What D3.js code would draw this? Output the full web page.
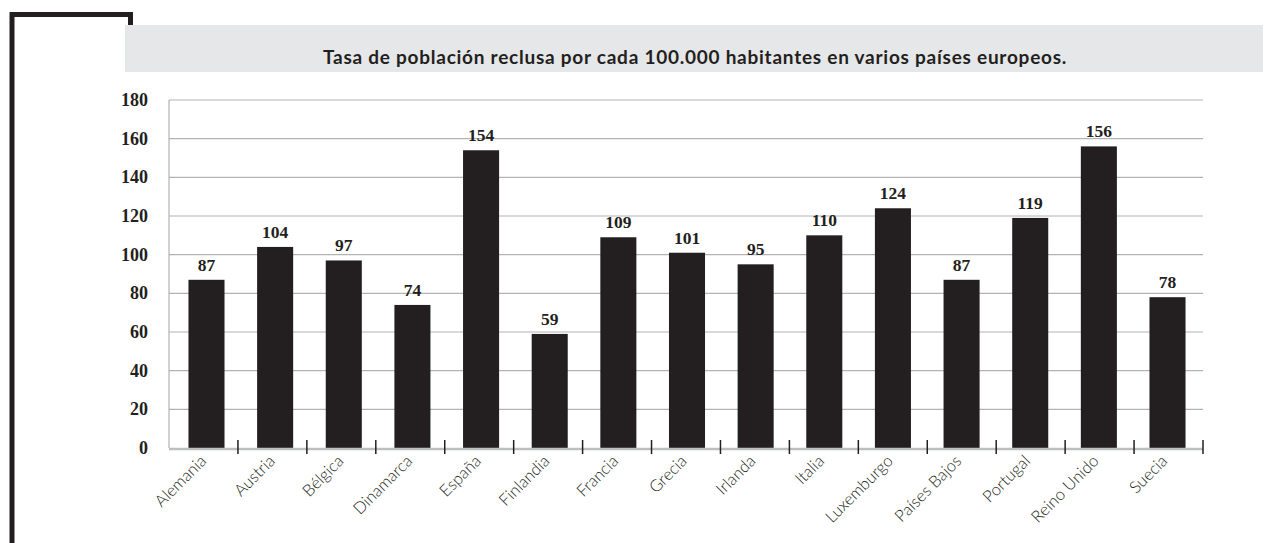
<!DOCTYPE html>
<html>
<head>
<meta charset="utf-8">
<script src="https://cdnjs.cloudflare.com/ajax/libs/d3/7.8.5/d3.min.js"></script>
<style>
  body { margin: 0; background: #fff; }
  svg { display: block; }
</style>
</head>
<body>
<div id="chart"></div>
<script>
// data
const countries = ['Alemania', 'Austria', 'Bélgica', 'Dinamarca', 'España', 'Finlandia', 'Francia',
    'Grecia', 'Irlanda', 'Italia', 'Luxemburgo', 'Países Bajos', 'Portugal', 'Reino Unido', 'Suecia'];
const rates = [87, 104, 97, 74, 154, 59, 109, 101, 95, 110, 124, 87, 119, 156, 78];
const yTicks = [0, 20, 40, 60, 80, 100, 120, 140, 160, 180];
const title = 'Tasa de población reclusa por cada 100.000 habitantes en varios países europeos.';

const width = 1276, height = 543;
let svg = d3.select('#chart').append('svg')
    .attr('width', width)
    .attr('height', height);

// black frame on the left
svg.append('path')
    .attr('d', 'M12,543 V14.5 H130.5 V30')
    .attr('fill', 'none')
    .attr('stroke', '#231f20')
    .attr('stroke-width', 5);

// title band
svg.append('rect')
    .attr('x', 125).attr('y', 25)
    .attr('width', 1138).attr('height', 47)
    .attr('fill', '#e6e7e8');
svg.append('text')
    .attr('x', 695).attr('y', 64)
    .attr('text-anchor', 'middle')
    .attr('font-family', 'Lato, "Open Sans", sans-serif')
    .attr('font-weight', 'bold')
    .attr('font-size', 19)
    .attr('letter-spacing', 0.75)
    .attr('fill', '#231f20')
    .text(title);

let plotLeft = 169, plotRight = 1203, plotTop = 100, plotBottom = 448;

// bars sit a touch right of the band centres in the original
let x = d3.scaleBand()
    .domain(countries)
    .range([plotLeft + 3, plotRight - 1])
    .paddingInner(0.475)
    .paddingOuter(0.24);

let y = d3.scaleLinear()
    .domain([0, 180])
    .range([plotBottom, plotTop]);

// gridlines
svg.append('g')
    .selectAll('line')
    .data(yTicks.filter(d => d > 0))
    .join('line')
    .attr('x1', plotLeft).attr('x2', plotRight)
    .attr('y1', d => y(d)).attr('y2', d => y(d))
    .attr('stroke', '#b3b3b3')
    .attr('stroke-width', 1.2);

// left axis line
svg.append('line')
    .attr('x1', plotLeft).attr('x2', plotLeft)
    .attr('y1', y(180)).attr('y2', plotBottom)
    .attr('stroke', '#b3b3b3')
    .attr('stroke-width', 1.2);

// y labels
svg.append('g')
    .selectAll('text')
    .data(yTicks)
    .join('text')
    .attr('x', 148)
    .attr('y', d => y(d) + 6)
    .attr('text-anchor', 'end')
    .attr('font-family', '"Liberation Serif", "DejaVu Serif", serif')
    .attr('font-weight', 'bold')
    .attr('font-size', 18)
    .attr('fill', '#231f20')
    .text(d => d);

// bars
svg.append('g')
    .selectAll('rect')
    .data(rates)
    .join('rect')
    .attr('x', (d, i) => x(countries[i]))
    .attr('y', d => y(d))
    .attr('width', x.bandwidth())
    .attr('height', d => plotBottom - y(d))
    .attr('fill', '#231f20');

// value labels
svg.append('g')
    .selectAll('text')
    .data(rates)
    .join('text')
    .attr('x', (d, i) => x(countries[i]) + x.bandwidth() / 2)
    .attr('y', d => y(d) - 9)
    .attr('text-anchor', 'middle')
    .attr('font-family', '"Liberation Serif", "DejaVu Serif", serif')
    .attr('font-weight', 'bold')
    .attr('font-size', 17.5)
    .attr('fill', '#231f20')
    .text(d => d);

// baseline
svg.append('line')
    .attr('x1', plotLeft).attr('x2', plotRight)
    .attr('y1', plotBottom + 1).attr('y2', plotBottom + 1)
    .attr('stroke', '#bcbec0')
    .attr('stroke-width', 2.5);

// category separators
let step = (plotRight - plotLeft) / countries.length;
svg.append('g')
    .selectAll('line')
    .data(countries)
    .join('line')
    .attr('x1', (d, i) => plotLeft + step * (i + 1))
    .attr('x2', (d, i) => plotLeft + step * (i + 1))
    .attr('y1', plotBottom - 8).attr('y2', plotBottom + 6)
    .attr('stroke', '#231f20')
    .attr('stroke-width', 1.5);

// category labels, rotated
svg.append('g')
    .selectAll('text')
    .data(countries)
    .join('text')
    .attr('transform', d => 'translate(' + (x(d) + x.bandwidth() / 2 + 1) + ',' + (plotBottom + 14) + ') rotate(-45)')
    .attr('text-anchor', 'end')
    .attr('font-family', 'Lato, "Open Sans", sans-serif')
    .attr('font-weight', 300)
    .attr('font-size', 16.5)
    .attr('fill', '#231f20')
    .text(d => d);
</script>
</body>
</html>
